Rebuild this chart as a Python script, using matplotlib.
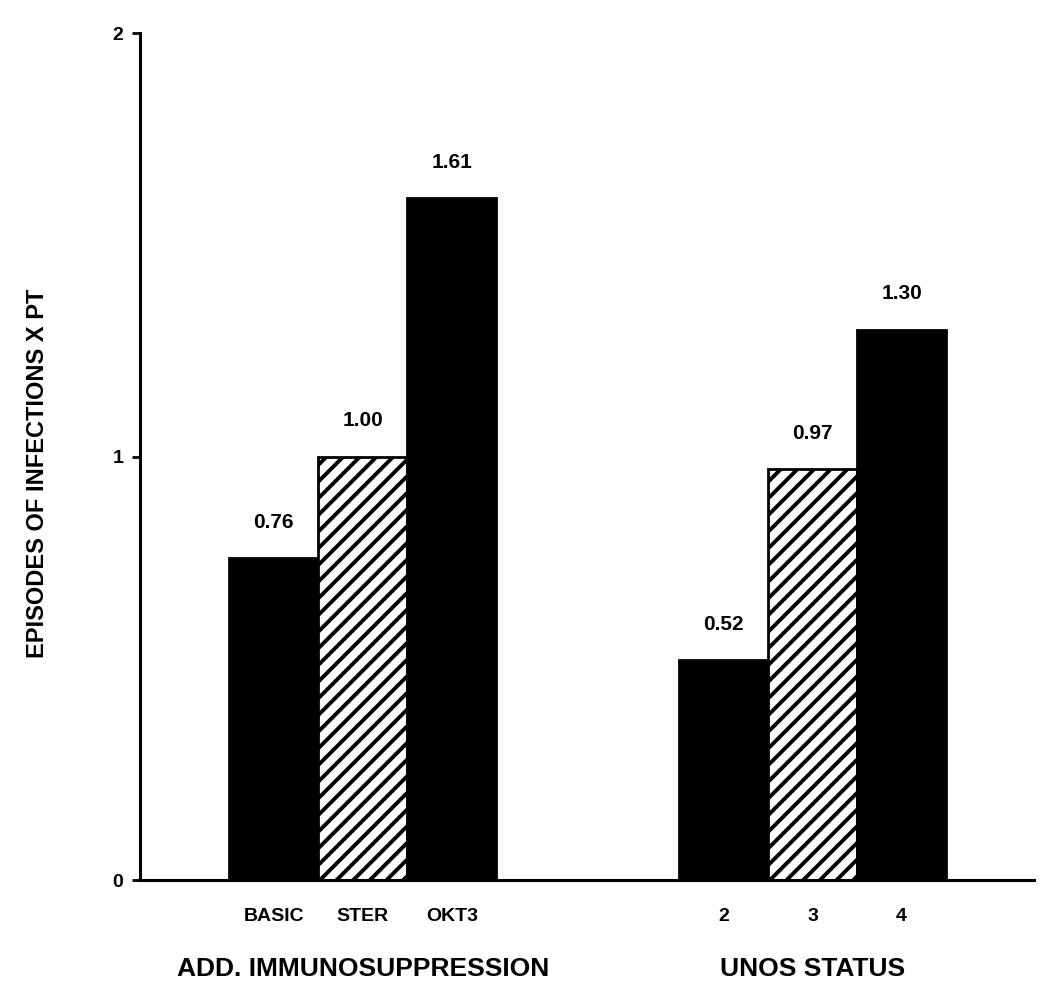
from matplotlib import pyplot as plt
import numpy as np

# data
groups = ["ADD. IMMUNOSUPPRESSION", "UNOS STATUS"]
labels_1 = ["BASIC", "STER", "OKT3"]
values_1 = [0.76, 1.00, 1.61]
labels_2 = ["2", "3", "4"]
values_2 = [0.52, 0.97, 1.30]
hatched = [False, True, False]

plt.rcParams['font.family'] = ['Liberation Sans', 'DejaVu Sans']
plt.rcParams['hatch.linewidth'] = 2.8

fig = plt.figure(figsize=(10.5, 10.07), dpi=100)
ax = fig.add_axes([0.1333, 0.126, 0.851, 0.841])

starts = [1.0, 6.05]
for start, labs, vals in zip(starts, [labels_1, labels_2], [values_1, values_2]):
    xs = start + np.arange(len(vals))
    for x, v, h in zip(xs, vals, hatched):
        ax.bar(x, v, width=1.0, align='edge',
               color='white' if h else 'black',
               edgecolor='black', linewidth=2,
               hatch='//' if h else None)
        ax.annotate(f"{v:.2f}", (x + 0.5, v), textcoords="offset points",
                    xytext=(0, 19), ha='center', va='bottom',
                    fontsize=15, fontweight='bold')

centers = np.concatenate([starts[0] + 0.5 + np.arange(3), starts[1] + 0.5 + np.arange(3)])
ax.set_xticks(centers)
ax.set_xticklabels(labels_1 + labels_2, fontsize=14, fontweight='bold')
ax.tick_params(axis='x', length=0, pad=20)

for start, g in zip(starts, groups):
    ax.text(start + 1.5, -0.21, g, ha='center', va='center',
            fontsize=19, fontweight='bold')

ax.set_xlim(0, 10.03)
ax.set_ylim(0, 2)
ax.set_yticks([0, 1, 2])
ax.set_yticklabels(["0", "1", "2"], fontsize=14, fontweight='bold')
ax.tick_params(axis='y', length=6, width=2, pad=6)
ax.set_ylabel("EPISODES OF INFECTIONS X PT", fontsize=17, fontweight='bold')
ax.yaxis.set_label_coords(-0.102, 0.48)

for s in ['top', 'right']:
    ax.spines[s].set_visible(False)
for s in ['left', 'bottom']:
    ax.spines[s].set_linewidth(2.2)

fig.savefig("out.png", dpi=100)
